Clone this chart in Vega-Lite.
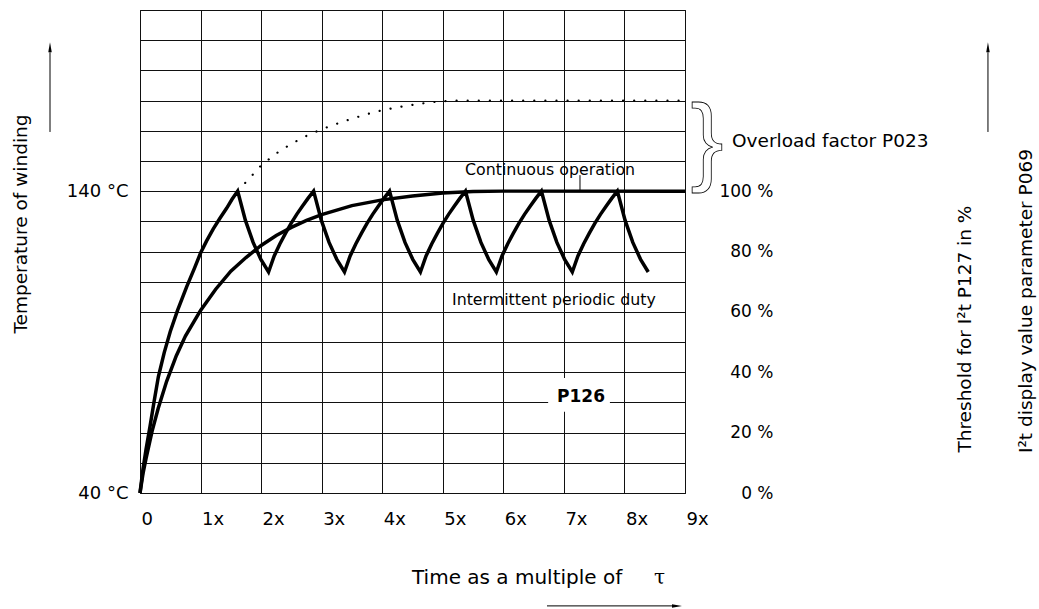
{
  "$schema": "https://vega.github.io/schema/vega-lite/v6.json",
  "width": 545,
  "height": 483,
  "autosize": {"type": "none"},
  "padding": {"left": 140, "top": 10, "right": 354, "bottom": 116},
  "background": "white",
  "config": {
    "view": {"stroke": "#000", "strokeWidth": 1},
    "font": "DejaVu Sans",
    "axis": {"labelColor": "#000", "labelFont": "DejaVu Sans", "labelFontSize": 18, "labelOverlap": false, "labelFlush": false, "labelBound": false}
  },
  "datasets": {
    "continuous": [
      {"t": 0, "v": 0}, {"t": 0.05, "v": 6.5}, {"t": 0.1, "v": 11.5}, {"t": 0.2, "v": 20.5}, {"t": 0.3, "v": 28},
      {"t": 0.44, "v": 37}, {"t": 0.6, "v": 45.5}, {"t": 0.75, "v": 52}, {"t": 1.0, "v": 60.5}, {"t": 1.25, "v": 67.5},
      {"t": 1.5, "v": 73.5}, {"t": 1.75, "v": 78}, {"t": 2.0, "v": 82}, {"t": 2.25, "v": 85.3}, {"t": 2.5, "v": 88},
      {"t": 2.75, "v": 90.3}, {"t": 3.0, "v": 92.2}, {"t": 3.5, "v": 95.2}, {"t": 4.0, "v": 97.1}, {"t": 4.5, "v": 98.4},
      {"t": 5.0, "v": 99.4}, {"t": 5.5, "v": 99.9}, {"t": 6.0, "v": 100}, {"t": 9.0, "v": 100}
    ],
    "intermittent": [
      {"t": 0, "v": 0}, {"t": 0.05, "v": 8}, {"t": 0.1, "v": 14.5}, {"t": 0.165, "v": 22}, {"t": 0.23, "v": 30},
      {"t": 0.303, "v": 38.5}, {"t": 0.4, "v": 46.5}, {"t": 0.5, "v": 53.5}, {"t": 0.62, "v": 60.5}, {"t": 0.77, "v": 68.3},
      {"t": 0.9, "v": 74.5}, {"t": 1.0, "v": 79.5}, {"t": 1.1, "v": 83.5}, {"t": 1.21, "v": 87.5}, {"t": 1.32, "v": 91},
      {"t": 1.43, "v": 94.3}, {"t": 1.52, "v": 97.3}, {"t": 1.613, "v": 100},
      {"t": 1.741, "v": 90.3}, {"t": 1.868, "v": 83}, {"t": 1.996, "v": 77.4}, {"t": 2.123, "v": 73.2},
      {"t": 2.216, "v": 78.5}, {"t": 2.309, "v": 82.5}, {"t": 2.402, "v": 86}, {"t": 2.495, "v": 89.3}, {"t": 2.588, "v": 92.3}, {"t": 2.681, "v": 95}, {"t": 2.774, "v": 97.6}, {"t": 2.867, "v": 100},
      {"t": 2.995, "v": 90.3}, {"t": 3.122, "v": 83}, {"t": 3.25, "v": 77.4}, {"t": 3.377, "v": 73.2},
      {"t": 3.47, "v": 78.5}, {"t": 3.563, "v": 82.5}, {"t": 3.656, "v": 86}, {"t": 3.749, "v": 89.3}, {"t": 3.842, "v": 92.3}, {"t": 3.935, "v": 95}, {"t": 4.028, "v": 97.6}, {"t": 4.121, "v": 100},
      {"t": 4.249, "v": 90.3}, {"t": 4.376, "v": 83}, {"t": 4.504, "v": 77.4}, {"t": 4.631, "v": 73.2},
      {"t": 4.724, "v": 78.5}, {"t": 4.817, "v": 82.5}, {"t": 4.91, "v": 86}, {"t": 5.003, "v": 89.3}, {"t": 5.096, "v": 92.3}, {"t": 5.189, "v": 95}, {"t": 5.282, "v": 97.6}, {"t": 5.375, "v": 100},
      {"t": 5.503, "v": 90.3}, {"t": 5.63, "v": 83}, {"t": 5.758, "v": 77.4}, {"t": 5.885, "v": 73.2},
      {"t": 5.978, "v": 78.5}, {"t": 6.071, "v": 82.5}, {"t": 6.164, "v": 86}, {"t": 6.257, "v": 89.3}, {"t": 6.35, "v": 92.3}, {"t": 6.443, "v": 95}, {"t": 6.536, "v": 97.6}, {"t": 6.629, "v": 100},
      {"t": 6.757, "v": 90.3}, {"t": 6.884, "v": 83}, {"t": 7.012, "v": 77.4}, {"t": 7.139, "v": 73.2},
      {"t": 7.232, "v": 78.5}, {"t": 7.325, "v": 82.5}, {"t": 7.418, "v": 86}, {"t": 7.511, "v": 89.3}, {"t": 7.604, "v": 92.3}, {"t": 7.697, "v": 95}, {"t": 7.79, "v": 97.6}, {"t": 7.883, "v": 100},
      {"t": 8.011, "v": 90.3}, {"t": 8.138, "v": 83}, {"t": 8.266, "v": 77.4}, {"t": 8.393, "v": 73.2}
    ],
    "overload": [
      {"t": 1.613, "v": 100}, {"t": 1.75, "v": 103}, {"t": 2.0, "v": 108.5}, {"t": 2.25, "v": 112.5}, {"t": 2.5, "v": 115.7},
      {"t": 2.75, "v": 118.3}, {"t": 3.0, "v": 120.5}, {"t": 3.25, "v": 122.3}, {"t": 3.5, "v": 124}, {"t": 3.75, "v": 125.5},
      {"t": 4.0, "v": 126.8}, {"t": 4.25, "v": 127.8}, {"t": 4.5, "v": 128.6}, {"t": 4.75, "v": 129.3}, {"t": 5.0, "v": 129.8},
      {"t": 5.25, "v": 130}, {"t": 8.9, "v": 130}
    ]
  },
  "encoding": {
    "x": {
      "field": "t", "type": "quantitative",
      "scale": {"domain": [0, 9], "nice": false, "zero": false},
      "axis": {
        "values": [0, 1, 2, 3, 4, 5, 6, 7, 8, 9],
        "labelExpr": "datum.value == 0 ? '0' : datum.value + 'x'",
        "grid": true, "gridColor": "#111", "gridWidth": 1, "gridOpacity": 1,
        "domain": false, "ticks": false,
        "labelAlign": "left", "labelOffset": 1, "labelPadding": 17,
        "title": null
      }
    }
  },
  "layer": [
    {
      "data": {"name": "continuous"},
      "mark": {"type": "line", "color": "#000", "strokeWidth": 3.5},
      "encoding": {
        "y": {
          "field": "v", "type": "quantitative",
          "scale": {"domain": [0, 160], "nice": false, "zero": false},
          "axis": {
            "orient": "left",
            "values": [0, 10, 20, 30, 40, 50, 60, 70, 80, 90, 100, 110, 120, 130, 140, 150, 160],
            "labelExpr": "datum.value == 0 ? '40 °C' : (datum.value == 100 ? '140 °C' : '')",
            "grid": true, "gridColor": "#111", "gridWidth": 1, "gridOpacity": 1,
            "domain": false, "ticks": false, "labelPadding": 12,
            "title": null
          }
        }
      }
    },
    {
      "data": {"name": "intermittent"},
      "mark": {"type": "line", "color": "#000", "strokeWidth": 3.5, "strokeJoin": "miter"},
      "encoding": {
        "y": {
          "field": "v", "type": "quantitative",
          "axis": {
            "orient": "right",
            "values": [0, 20, 40, 60, 80, 100],
            "labelExpr": "datum.value + ' %'",
            "grid": false, "domain": false, "ticks": false,
            "labelAlign": "right", "labelPadding": 88, "labelFontSize": 17,
            "title": null
          }
        }
      }
    },
    {
      "data": {"name": "overload"},
      "mark": {"type": "line", "color": "#000", "strokeWidth": 2.2, "strokeDash": [0.1, 11], "strokeCap": "round"},
      "encoding": {
        "y": {"field": "v", "type": "quantitative", "axis": null}
      }
    },
    {
      "data": {"values": [{"t": 6.74, "t1": 7.76, "v0": 26.9, "v1": 38.1}]},
      "mark": {"type": "rect", "fill": "white", "stroke": null},
      "encoding": {
        "x2": {"field": "t1"},
        "y": {"field": "v0", "type": "quantitative", "axis": null},
        "y2": {"field": "v1"}
      }
    },
    {
      "data": {"values": [{"t": 7.283, "v": 31.8, "label": "P126"}]},
      "mark": {"type": "text", "font": "DejaVu Sans", "fontSize": 17, "fontWeight": "bold", "color": "#000", "align": "center", "baseline": "middle"},
      "encoding": {
        "y": {"field": "v", "type": "quantitative", "axis": null},
        "text": {"field": "label"}
      }
    },
    {
      "data": {"values": [
        {"t": 5.367, "v": 107, "label": "Continuous operation"},
        {"t": 5.152, "v": 63.9, "label": "Intermittent periodic duty"}
      ]},
      "mark": {"type": "text", "font": "DejaVu Sans", "fontSize": 15.8, "color": "#000", "align": "left", "baseline": "middle"},
      "encoding": {
        "y": {"field": "v", "type": "quantitative", "axis": null},
        "text": {"field": "label"}
      }
    },
    {
      "data": {"values": [{"t": 7.266, "v0": 100, "v1": 105.3}]},
      "mark": {"type": "rule", "color": "#000", "strokeWidth": 1},
      "encoding": {
        "y": {"field": "v0", "type": "quantitative", "axis": null},
        "y2": {"field": "v1"}
      }
    },
    {
      "data": {"values": [{"t": 9.776, "v": 116.6, "label": "Overload factor P023"}]},
      "mark": {"type": "text", "font": "DejaVu Sans", "fontSize": 18.5, "color": "#000", "align": "left", "baseline": "middle"},
      "encoding": {
        "y": {"field": "v", "type": "quantitative", "axis": null},
        "text": {"field": "label"}
      }
    },
    {
      "data": {"values": [{"t": 9.363, "v": 105.9, "label": "}"}]},
      "mark": {"type": "text", "font": "Liberation Sans", "fontSize": 99, "fill": "white", "stroke": "#000", "strokeWidth": 0.8, "align": "center", "baseline": "alphabetic"},
      "encoding": {
        "y": {"field": "v", "type": "quantitative", "axis": null},
        "text": {"field": "label"}
      }
    },
    {
      "data": {"values": [{"t": 4.492, "v": -28.2, "label": "Time as a multiple of"}]},
      "mark": {"type": "text", "font": "DejaVu Sans", "fontSize": 20, "color": "#000", "align": "left", "baseline": "middle"},
      "encoding": {
        "y": {"field": "v", "type": "quantitative", "axis": null},
        "text": {"field": "label"}
      }
    },
    {
      "data": {"values": [{"t": 8.58, "v": -28.2, "label": "τ"}]},
      "mark": {"type": "text", "font": "DejaVu Serif", "fontSize": 20, "color": "#000", "align": "center", "baseline": "middle"},
      "encoding": {
        "y": {"field": "v", "type": "quantitative", "axis": null},
        "text": {"field": "label"}
      }
    },
    {
      "data": {"values": [
        {"t": -1.965, "v": 89.1, "label": "Temperature of winding"},
        {"t": 13.624, "v": 54.3, "label": "Threshold for I²t P127 in %"},
        {"t": 14.631, "v": 63.6, "label": "I²t display value parameter P069"}
      ]},
      "mark": {"type": "text", "font": "DejaVu Sans", "fontSize": 18.5, "color": "#000", "align": "center", "baseline": "middle", "angle": 270},
      "encoding": {
        "y": {"field": "v", "type": "quantitative", "axis": null},
        "text": {"field": "label"}
      }
    },
    {
      "data": {"values": [
        {"t": -1.486, "v0": 119.6, "v1": 146},
        {"t": 14.003, "v0": 119.6, "v1": 146}
      ]},
      "mark": {"type": "rule", "color": "#000", "strokeWidth": 1},
      "encoding": {
        "y": {"field": "v0", "type": "quantitative", "axis": null},
        "y2": {"field": "v1"}
      }
    },
    {
      "data": {"values": [
        {"t": -1.486, "v": 147.7},
        {"t": 14.003, "v": 147.7}
      ]},
      "mark": {"type": "point", "shape": "M0,-1L-0.35,1L0.35,1Z", "size": 100, "filled": true, "color": "#000", "opacity": 1},
      "encoding": {
        "y": {"field": "v", "type": "quantitative", "axis": null}
      }
    },
    {
      "data": {"values": [{"t": 6.721, "t1": 8.8, "v": -37.4}]},
      "mark": {"type": "rule", "color": "#000", "strokeWidth": 1},
      "encoding": {
        "x2": {"field": "t1"},
        "y": {"field": "v", "type": "quantitative", "axis": null}
      }
    },
    {
      "data": {"values": [{"t": 8.868, "v": -37.4}]},
      "mark": {"type": "point", "shape": "M1,0L-1,-0.35L-1,0.35Z", "size": 100, "filled": true, "color": "#000", "opacity": 1},
      "encoding": {
        "y": {"field": "v", "type": "quantitative", "axis": null}
      }
    }
  ],
  "resolve": {"axis": {"y": "independent"}}
}
